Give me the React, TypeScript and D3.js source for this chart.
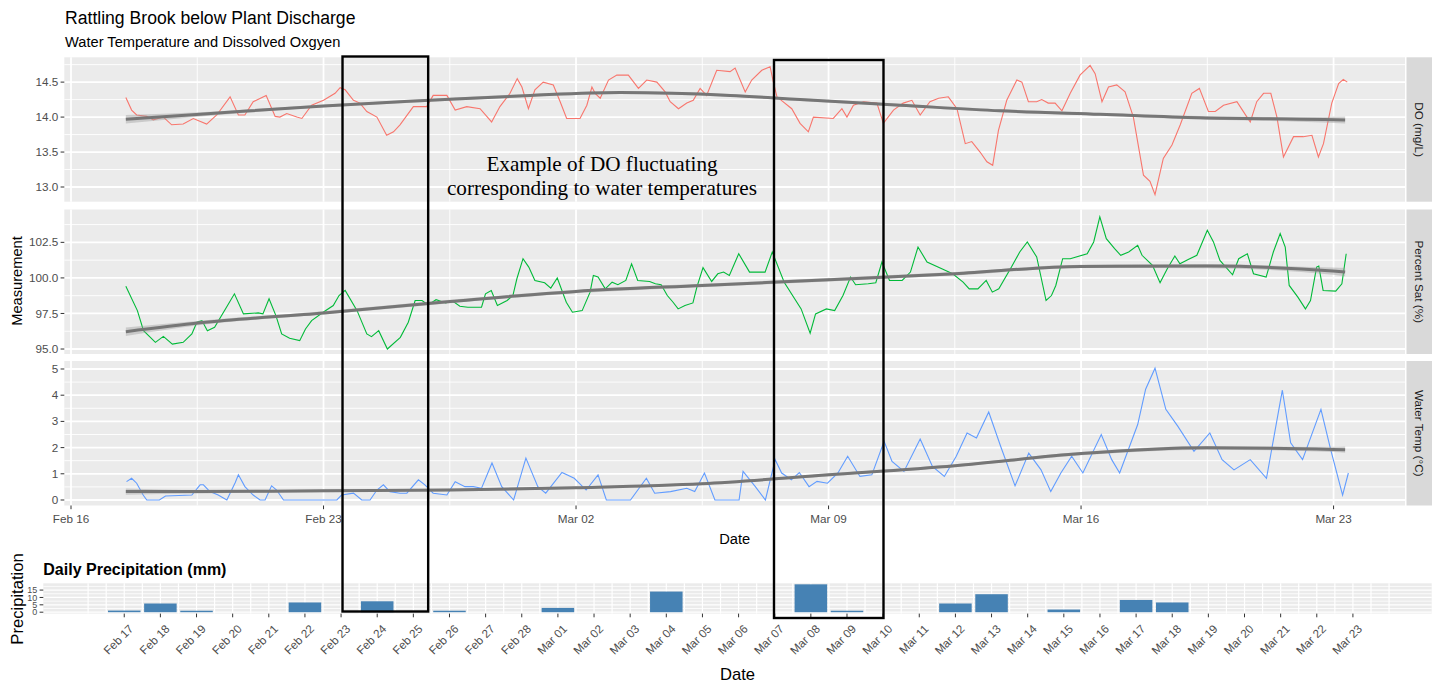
import React, { useEffect, useRef } from 'react';
import * as d3 from 'd3';

const DAY = 864e5;
const T0 = Date.UTC(2021, 1, 16); // Feb 16
const W = 1439;
const H = 686;
const FONT = "'Liberation Sans', Arial, sans-serif";

// ---- logger series: days since Feb 16 00:00 ----
const doDays = [1.52,1.68,1.82,2.10,2.28,2.56,2.79,3.11,3.39,3.76,4.04,4.41,4.64,4.82,5.05,5.41,5.66,5.79,5.98,6.26,6.40,6.67,7.00,7.32,7.46,7.60,7.83,8.01,8.20,8.48,8.75,8.94,9.12,9.49,9.86,10.04,10.42,10.65,10.97,11.34,11.66,11.89,12.17,12.37,12.50,12.68,12.86,13.09,13.37,13.56,13.74,14.11,14.30,14.44,14.53,14.67,14.90,15.13,15.45,15.73,15.96,16.24,16.47,16.61,16.84,17.07,17.25,17.44,17.62,17.90,18.27,18.41,18.69,18.87,19.15,19.38,19.47,19.57,19.98,20.21,20.44,20.58,21.13,21.37,21.51,21.69,21.97,22.34,22.52,22.80,23.07,23.31,23.54,23.81,24.05,24.32,24.56,24.79,24.97,25.20,25.39,25.55,25.71,25.94,26.22,26.36,26.54,26.77,26.91,27.09,27.28,27.47,27.70,27.97,28.25,28.39,28.58,28.76,28.99,29.22,29.45,29.73,29.91,30.05,30.28,30.52,30.75,31.07,31.28,31.53,31.72,31.95,32.32,32.60,32.69,32.87,33.06,33.26,33.43,33.61,33.89,34.16,34.40,34.58,34.72,34.95,35.14,35.27,35.38];
const doVals = [14.28,14.10,14.03,14.01,13.96,14.00,13.89,13.90,13.98,13.90,14.03,14.29,14.03,14.03,14.22,14.31,14.01,14.00,14.05,14.00,13.98,14.17,14.24,14.34,14.42,14.39,14.24,14.20,14.08,14.00,13.74,13.79,13.89,14.15,14.15,14.31,14.31,14.10,14.15,14.12,13.93,14.15,14.34,14.55,14.43,14.12,14.39,14.50,14.46,14.22,13.98,13.98,14.17,14.43,14.34,14.27,14.53,14.60,14.60,14.41,14.53,14.50,14.36,14.22,14.12,14.20,14.24,14.41,14.31,14.67,14.65,14.70,14.36,14.53,14.67,14.72,14.50,14.29,14.12,13.91,13.79,14.00,13.98,14.12,14.00,14.17,14.22,14.20,13.91,14.10,14.20,14.24,14.03,14.22,14.27,14.29,14.12,13.62,13.65,13.50,13.36,13.31,13.81,14.24,14.53,14.50,14.22,14.22,14.25,14.20,14.20,14.09,14.34,14.60,14.74,14.62,14.22,14.43,14.46,14.36,14.00,13.17,13.08,12.89,13.41,13.60,13.89,14.34,14.41,14.08,14.08,14.17,14.22,14.00,13.93,14.22,14.34,14.34,14.00,13.43,13.72,13.72,13.74,13.43,13.62,14.20,14.48,14.54,14.50];

const satDays = [1.52,1.84,2.01,2.34,2.56,2.81,3.11,3.35,3.49,3.63,3.78,3.98,4.31,4.53,4.78,5.19,5.32,5.49,5.68,5.84,6.06,6.34,6.50,6.67,6.99,7.27,7.43,7.60,7.93,8.20,8.33,8.53,8.77,9.13,9.35,9.54,9.73,9.90,10.12,10.39,10.56,10.78,11.00,11.38,11.49,11.65,11.82,12.09,12.25,12.36,12.53,12.69,12.86,13.13,13.30,13.48,13.73,13.90,14.17,14.39,14.48,14.61,14.81,15.00,15.16,15.38,15.54,15.71,16.04,16.20,16.36,16.53,16.69,16.83,17.02,17.24,17.35,17.52,17.76,17.93,18.09,18.25,18.51,18.81,19.24,19.44,19.77,20.24,20.49,20.64,20.94,21.17,21.40,21.61,21.75,22.10,22.31,22.48,22.69,23.04,23.27,23.48,23.73,24.14,24.44,24.73,24.90,25.14,25.37,25.54,25.72,26.07,26.30,26.51,26.77,27.03,27.18,27.30,27.49,27.70,28.17,28.35,28.52,28.70,28.93,29.10,29.32,29.57,29.69,29.98,30.19,30.39,30.60,30.74,30.97,31.21,31.50,31.67,31.85,32.20,32.37,32.61,32.78,33.13,33.33,33.52,33.66,33.77,34.01,34.22,34.36,34.53,34.59,34.71,35.06,35.23,35.35];
const satVals = [99.42,97.70,96.29,95.47,95.89,95.35,95.47,96.06,96.88,97.00,96.29,96.53,97.94,98.88,97.47,97.54,97.47,98.53,97.35,96.06,95.75,95.59,96.41,97.00,97.59,98.06,98.76,99.12,97.70,96.06,95.87,96.29,95.00,95.82,96.88,98.41,98.41,98.10,98.47,98.24,98.41,98.01,97.94,97.94,98.88,99.12,98.06,98.41,98.76,99.94,101.35,100.76,99.82,99.66,99.28,99.99,98.29,97.59,97.70,99.00,100.17,100.06,99.23,99.70,99.52,99.82,100.99,99.82,99.75,99.59,99.52,98.76,98.29,97.82,98.06,98.24,99.35,100.72,99.75,100.29,100.41,100.17,101.70,100.41,100.41,101.82,99.70,97.82,96.11,97.47,97.82,97.70,98.76,100.06,99.52,99.59,99.66,101.12,99.82,99.82,100.41,102.17,101.12,100.65,100.29,99.70,99.23,99.23,99.82,99.00,99.23,100.76,101.82,102.53,101.47,98.41,98.76,99.47,101.35,101.35,101.70,102.53,104.29,102.76,102.06,101.59,101.82,102.29,101.59,100.88,99.66,100.65,101.54,101.00,101.30,101.59,103.35,102.53,101.23,100.22,101.35,101.70,100.29,100.06,101.82,103.11,102.17,99.47,98.65,97.82,98.41,100.76,100.83,99.12,99.07,99.59,101.70];

const tempDays = [1.54,1.68,1.82,2.00,2.10,2.45,2.62,3.35,3.58,3.67,3.85,4.08,4.32,4.55,4.64,4.82,5.05,5.24,5.38,5.56,5.70,5.89,7.37,7.50,7.83,8.06,8.29,8.48,8.66,8.84,9.12,9.31,9.63,9.81,10.04,10.42,10.65,10.92,11.15,11.38,11.67,11.94,12.27,12.61,12.94,13.16,13.61,13.95,14.28,14.61,14.84,15.51,15.95,16.18,16.62,17.07,17.29,17.56,17.85,18.52,18.63,18.97,19.25,19.52,19.70,19.97,20.19,20.46,20.68,20.97,21.26,21.53,21.87,22.20,22.54,22.76,23.09,23.54,23.88,24.21,24.54,24.84,25.10,25.44,25.77,26.17,26.55,26.89,27.16,27.44,27.74,28.05,28.56,28.85,29.07,29.57,29.79,30.05,30.35,30.68,31.13,31.57,31.91,32.24,32.69,33.14,33.58,33.81,34.14,34.65,34.92,35.25,35.41];
const tempVals = [0.70,0.83,0.64,0.19,0.00,0.00,0.15,0.19,0.58,0.58,0.32,0.19,0.00,0.66,0.96,0.51,0.19,0.00,0.00,0.54,0.38,0.00,0.00,0.19,0.26,0.00,0.00,0.38,0.58,0.32,0.26,0.26,0.77,0.58,0.26,0.19,0.70,0.51,0.51,0.45,1.41,0.51,0.00,1.60,0.51,0.26,1.05,0.83,0.38,0.96,0.00,0.00,0.83,0.26,0.32,0.45,0.32,1.03,0.00,0.00,1.09,0.51,0.00,1.54,1.03,0.77,1.05,0.51,0.71,0.64,1.03,1.67,0.90,0.96,2.24,1.47,1.09,2.33,1.28,0.90,1.67,2.56,2.37,3.36,2.05,0.54,1.79,1.15,0.32,1.03,1.67,1.03,2.50,1.54,1.03,2.88,4.23,5.03,3.46,2.82,1.86,2.56,1.54,1.15,1.54,0.83,4.19,2.18,1.54,3.46,1.92,0.19,1.03];

// ---- loess fits (value, standard-error band half width) ----
const doFitDays = [1.52,3.58,7.01,9.95,12.73,15.22,18.27,20.21,22.98,25.76,28.53,31.30,34.07,35.32];
const doFit = [13.97,14.04,14.16,14.24,14.31,14.35,14.31,14.25,14.17,14.09,14.04,13.99,13.97,13.96];
const doFitSe = [0.06,0.03,0.02,0.02,0.02,0.02,0.02,0.02,0.02,0.02,0.02,0.025,0.035,0.05];

const fitDays = [1.52,3.58,7.01,10.51,14.00,17.49,21.01,24.51,28.00,31.49,34.98,35.32];
const satFit = [96.22,96.84,97.54,98.34,99.05,99.47,99.87,100.29,100.81,100.83,100.48,100.41];
const satFitSe = [0.3,0.15,0.12,0.12,0.12,0.12,0.12,0.12,0.12,0.15,0.25,0.3];
const tempFit = [0.32,0.32,0.35,0.38,0.47,0.62,0.96,1.31,1.77,1.99,1.93,1.92];
const tempFitSe = [0.12,0.07,0.05,0.05,0.05,0.05,0.05,0.05,0.06,0.07,0.1,0.12];

// ---- daily precipitation, Feb 17 .. Mar 23 (mm) ----
const precipStart = Date.UTC(2021, 1, 17);
const precipVals = [1.1,5.9,1.0,0,0,6.6,0,7.4,0,1.0,0,0,2.9,0,0,14.0,0,0,0,18.9,1.0,0,0,5.9,12.2,0,1.8,0,8.3,6.6,0,0,0,0,0];
const precipTicks = [0,5,10,15];

const topTickDays = [0,7,14,21,28,35];
const facetLabels = ['DO (mg/L)', 'Percent Sat (%)', 'Water Temp (°C)'];

const dt = (d: number) => new Date(T0 + d * DAY);

export default function App() {
  const ref = useRef<SVGSVGElement>(null);

  useEffect(() => {
    const svg = d3.select(ref.current);
    svg.selectAll('*').remove();

    const L = 64.3, R = 1405;
    const x = d3.scaleUtc().domain([dt(-0.186), dt(36.98)]).range([L, R]);

    svg.append('text').attr('x', 65).attr('y', 24.3).style('font-family', FONT).style('font-size', '17.6px')
      .attr('fill', '#000').text('Rattling Brook below Plant Discharge');
    svg.append('text').attr('x', 65).attr('y', 47.2).style('font-family', FONT).style('font-size', '14.67px')
      .attr('fill', '#000').text('Water Temperature and Dissolved Oxgyen');

    const panels = [
      { top: 57.3, bottom: 201.7, domain: [12.79, 14.855], major: [13, 13.5, 14, 14.5], minor: [13.25, 13.75, 14.25, 14.75],
        fmt: d3.format('.1f'), color: '#F8766D', days: doDays, vals: doVals, fd: doFitDays, fv: doFit, fs: doFitSe },
      { top: 209.5, bottom: 354, domain: [94.65, 104.81], major: [95, 97.5, 100, 102.5], minor: [96.25, 98.75, 101.25, 103.75],
        fmt: d3.format('.1f'), color: '#00BA38', days: satDays, vals: satVals, fd: fitDays, fv: satFit, fs: satFitSe },
      { top: 361, bottom: 505.5, domain: [-0.21, 5.305], major: [0, 1, 2, 3, 4, 5], minor: [0.5, 1.5, 2.5, 3.5, 4.5],
        fmt: d3.format('d'), color: '#619CFF', days: tempDays, vals: tempVals, fd: fitDays, fv: tempFit, fs: tempFitSe },
    ];

    const xMajor = topTickDays.map(dt);
    const xMinor = topTickDays.slice(0, -1).map(d => dt(d + 3.5));

    panels.forEach((p, i) => {
      const y = d3.scaleLinear().domain(p.domain).range([p.bottom, p.top]);
      const g = svg.append('g');
      g.append('rect').attr('x', L).attr('y', p.top).attr('width', R - L).attr('height', p.bottom - p.top).attr('fill', '#EBEBEB');
      p.minor.forEach(v => g.append('line').attr('x1', L).attr('x2', R).attr('y1', y(v)).attr('y2', y(v)).attr('stroke', '#fff').attr('stroke-width', 0.9));
      xMinor.forEach(d => g.append('line').attr('x1', x(d)).attr('x2', x(d)).attr('y1', p.top).attr('y2', p.bottom).attr('stroke', '#fff').attr('stroke-width', 0.9));
      p.major.forEach(v => g.append('line').attr('x1', L).attr('x2', R).attr('y1', y(v)).attr('y2', y(v)).attr('stroke', '#fff').attr('stroke-width', 1.8));
      xMajor.forEach(d => g.append('line').attr('x1', x(d)).attr('x2', x(d)).attr('y1', p.top).attr('y2', p.bottom).attr('stroke', '#fff').attr('stroke-width', 1.8));

      const pts = p.days.map((d, k) => [d, p.vals[k]] as [number, number]);
      const line = d3.line<[number, number]>().x(d => x(dt(d[0]))).y(d => y(d[1]));
      g.append('path').datum(pts).attr('d', line).attr('fill', 'none').attr('stroke', p.color).attr('stroke-width', 1.1);

      const fit = p.fd.map((d, k) => ({ d, v: p.fv[k], s: p.fs[k] }));
      const band = d3.area<any>().x(d => x(dt(d.d))).y0(d => y(d.v - d.s)).y1(d => y(d.v + d.s)).curve(d3.curveMonotoneX);
      g.append('path').datum(fit).attr('d', band).attr('fill', '#999').attr('opacity', 0.4);
      const fl = d3.line<any>().x(d => x(dt(d.d))).y(d => y(d.v)).curve(d3.curveMonotoneX);
      g.append('path').datum(fit).attr('d', fl).attr('fill', 'none').attr('stroke', '#767676').attr('stroke-width', 3);

      // y axis
      p.major.forEach(v => {
        g.append('line').attr('x1', L - 3.7).attr('x2', L).attr('y1', y(v)).attr('y2', y(v)).attr('stroke', '#333').attr('stroke-width', 1);
        g.append('text').attr('x', L - 6).attr('y', y(v)).attr('dy', '0.35em').attr('text-anchor', 'end')
          .style('font-family', FONT).style('font-size', '11.7px').attr('fill', '#4D4D4D').text(p.fmt(v));
      });

      // strip
      g.append('rect').attr('x', 1406.5).attr('y', p.top).attr('width', 25.5).attr('height', p.bottom - p.top).attr('fill', '#D9D9D9');
      const cy = (p.top + p.bottom) / 2;
      g.append('text').attr('transform', `translate(1419,${cy}) rotate(90)`).attr('text-anchor', 'middle').attr('dy', '0.35em')
        .style('font-family', FONT).style('font-size', '11.7px').attr('fill', '#1A1A1A').text(facetLabels[i]);
    });

    // bottom x axis of faceted plot
    const axB = 505.5;
    xMajor.forEach(d => {
      svg.append('line').attr('x1', x(d)).attr('x2', x(d)).attr('y1', axB).attr('y2', axB + 3.7).attr('stroke', '#333');
      svg.append('text').attr('x', x(d)).attr('y', axB + 17.5).attr('text-anchor', 'middle')
        .style('font-family', FONT).style('font-size', '11.7px').attr('fill', '#4D4D4D').text(d3.utcFormat('%b %d')(d));
    });
    svg.append('text').attr('x', (L + R) / 2).attr('y', 544).attr('text-anchor', 'middle')
      .style('font-family', FONT).style('font-size', '14.67px').text('Date');
    svg.append('text').attr('transform', `translate(22,281) rotate(-90)`).attr('text-anchor', 'middle')
      .style('font-family', FONT).style('font-size', '14.67px').text('Measurement');

    // ---- precipitation plot ----
    const pL = 43.3, pR = 1431.7, pT = 583.3, pB = 613.6;
    const px = d3.scaleUtc().domain([new Date(precipStart - 2.24 * DAY), new Date(precipStart + 36.18 * DAY)]).range([pL, pR]);
    const py = d3.scaleLinear().domain([-0.95, 19.6]).range([pB, pT]);
    const pDates = precipVals.map((_, k) => new Date(precipStart + k * DAY));

    svg.append('text').attr('x', 43.3).attr('y', 574.5).style('font-family', FONT).style('font-size', '16px')
      .style('font-weight', 'bold').text('Daily Precipitation (mm)');
    svg.append('rect').attr('x', pL).attr('y', pT).attr('width', pR - pL).attr('height', pB - pT).attr('fill', '#EBEBEB');
    [2.5, 7.5, 12.5, 17.5].forEach(v => svg.append('line').attr('x1', pL).attr('x2', pR).attr('y1', py(v)).attr('y2', py(v)).attr('stroke', '#fff').attr('stroke-width', 0.8));
    precipTicks.forEach(v => svg.append('line').attr('x1', pL).attr('x2', pR).attr('y1', py(v)).attr('y2', py(v)).attr('stroke', '#fff').attr('stroke-width', 1.2));
    d3.utcHour.every(12)!.range(new Date(precipStart - DAY), new Date(precipStart + 35.1 * DAY)).forEach(d => {
      svg.append('line').attr('x1', px(d)).attr('x2', px(d)).attr('y1', pT).attr('y2', pB).attr('stroke', '#fff').attr('stroke-width', 1.2);
    });

    const bw = px(new Date(precipStart + 0.9 * DAY)) - px(new Date(precipStart));
    svg.append('g').selectAll('rect').data(precipVals.map((v, k) => ({ v, d: pDates[k] })).filter(o => o.v > 0)).join('rect')
      .attr('x', o => px(o.d) - bw / 2).attr('width', bw)
      .attr('y', o => py(o.v)).attr('height', o => py(0) - py(o.v)).attr('fill', '#4682B4');

    precipTicks.forEach(v => {
      svg.append('line').attr('x1', pL - 3.7).attr('x2', pL).attr('y1', py(v)).attr('y2', py(v)).attr('stroke', '#333');
      svg.append('text').attr('x', pL - 6).attr('y', py(v)).attr('dy', '0.35em').attr('text-anchor', 'end')
        .style('font-family', FONT).style('font-size', '9px').attr('fill', '#4D4D4D').text(v);
    });
    pDates.forEach(d => {
      svg.append('line').attr('x1', px(d)).attr('x2', px(d)).attr('y1', pB).attr('y2', pB + 3.7).attr('stroke', '#333');
      svg.append('text').attr('transform', `translate(${px(d) + 4},${pB + 10}) rotate(-45)`).attr('text-anchor', 'end').attr('dy', '0.72em')
        .style('font-family', FONT).style('font-size', '11.7px').attr('fill', '#4D4D4D').text(d3.utcFormat('%b %d')(d));
    });
    svg.append('text').attr('x', (pL + pR) / 2).attr('y', 680).attr('text-anchor', 'middle')
      .style('font-family', FONT).style('font-size', '16.6px').text('Date');
    svg.append('text').attr('transform', `translate(22.7,599) rotate(-90)`).attr('text-anchor', 'middle')
      .style('font-family', FONT).style('font-size', '16.6px').text('Precipitation');

    // ---- annotation ----
    const boxes = [
      { from: 6.04, to: 8.41, top: 56.5, bottom: 611.5 },
      { from: 17.98, to: 21.01, top: 60, bottom: 618 },
    ];
    boxes.forEach(b => {
      const x0 = px(new Date(precipStart + b.from * DAY));
      const x1 = px(new Date(precipStart + b.to * DAY));
      svg.append('rect').attr('x', x0).attr('y', b.top).attr('width', x1 - x0).attr('height', b.bottom - b.top)
        .attr('fill', 'none').attr('stroke', '#000').attr('stroke-width', 2.4);
    });
    const note = svg.append('text').attr('text-anchor', 'middle').style('font-family', "'Liberation Serif', 'Times New Roman', serif")
      .style('font-size', '21.2px').attr('fill', '#000');
    note.append('tspan').attr('x', 602).attr('y', 170.5).text('Example of DO fluctuating');
    note.append('tspan').attr('x', 602).attr('y', 194.5).text('corresponding to water temperatures');
  }, []);

  return <svg ref={ref} width={W} height={H} style={{ position: 'absolute', left: 0, top: 0, background: '#fff' }} />;
}
